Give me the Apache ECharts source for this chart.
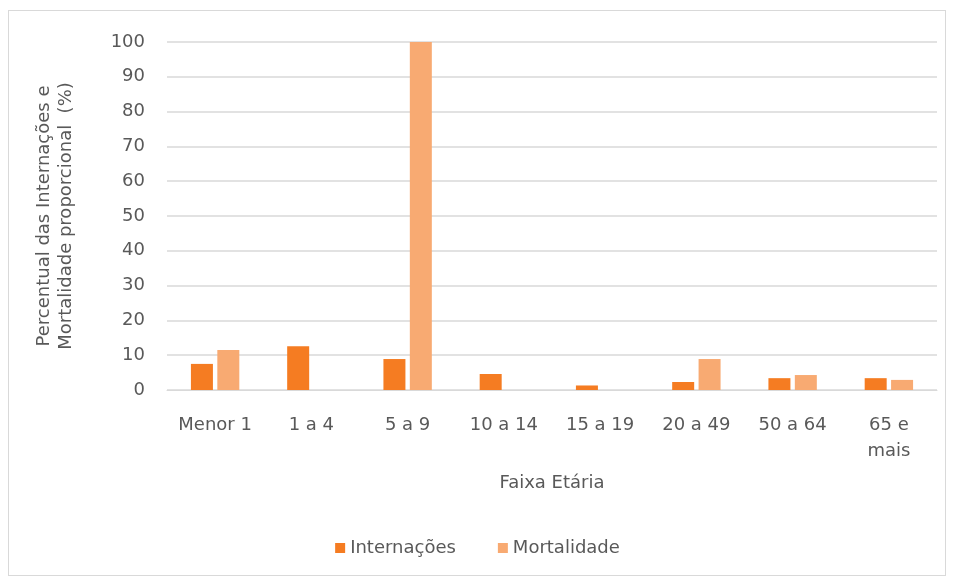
<!DOCTYPE html>
<html>
<head>
<meta charset="utf-8">
<script src="https://cdn.jsdelivr.net/npm/echarts@6/dist/echarts.min.js"></script>
<style>
  html, body { margin: 0; padding: 0; background: #fff; }
  #frame { position: absolute; left: 8px; top: 10px; width: 938px; height: 566px; border: 1px solid #d9d9d9; box-sizing: border-box; }
  #chart { width: 955px; height: 584px; position: absolute; left: 0; top: 0; }
</style>
</head>
<body>
<div id="frame"></div>
<div id="chart"></div>
<script>
const categories = ['Menor 1', '1 a 4', '5 a 9', '10 a 14', '15 a 19', '20 a 49', '50 a 64', '65 e\nmais']
const internacoes = [7.5, 12.6, 8.9, 4.6, 1.3, 2.3, 3.4, 3.4]
const mortalidade = [11.5, 0, 100, 0, 0, 8.9, 4.3, 2.9]

const chart = echarts.init(document.getElementById('chart'))
const txt = '#595959'
const font = 'DejaVu Sans'

chart.setOption({
  textStyle: { fontFamily: font },
  grid: { left: 167, right: 18, top: 42, bottom: 194 },
  legend: {
    bottom: 22,
    left: 'center',
    itemWidth: 10,
    itemHeight: 10,
    itemGap: 42,
    icon: 'rect',
    textStyle: { color: txt, fontSize: 18, fontFamily: font },
    data: ['Internações', 'Mortalidade']
  },
  xAxis: {
    type: 'category',
    data: categories,
    name: 'Faixa Etária',
    nameLocation: 'middle',
    nameGap: 84,
    nameTextStyle: { color: txt, fontSize: 18 },
    axisLine: { lineStyle: { color: '#d9d9d9' } },
    axisTick: { show: false },
    axisLabel: { color: txt, fontSize: 18, margin: 22, lineHeight: 26, verticalAlign: 'top' }
  },
  yAxis: {
    type: 'value',
    min: 0,
    max: 100,
    interval: 10,
    name: 'Percentual das Internações e\nMortalidade proporcional  (%)',
    nameLocation: 'middle',
    nameGap: 90,
    nameRotate: 90,
    nameTextStyle: { color: txt, fontSize: 18, lineHeight: 22 },
    axisLabel: { color: txt, fontSize: 18, margin: 22 },
    axisLine: { show: false },
    axisTick: { show: false },
    splitLine: { lineStyle: { color: '#d9d9d9', width: 1.5 } }
  },
  series: [
    {
      name: 'Internações',
      type: 'bar',
      data: internacoes,
      barWidth: 22,
      barGap: '20%',
      itemStyle: { color: '#F57C22' }
    },
    {
      name: 'Mortalidade',
      type: 'bar',
      data: mortalidade,
      barWidth: 22,
      itemStyle: { color: '#F8AA72' }
    }
  ]
})
</script>
</body>
</html>
